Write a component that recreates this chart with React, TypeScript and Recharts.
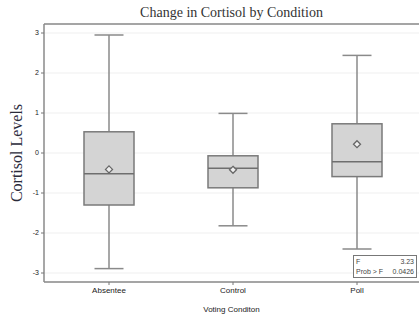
import { Bar, CartesianGrid, ComposedChart, ReferenceLine, XAxis, YAxis } from 'recharts';

const CATEGORIES = ['Absentee', 'Control', 'Poll'];
const WHISKER_LOW = [-2.89, -1.82, -2.4];
const Q1 = [-1.3, -0.87, -0.59];
const MEDIAN = [-0.52, -0.38, -0.22];
const Q3 = [0.53, -0.07, 0.73];
const WHISKER_HIGH = [2.95, 0.99, 2.44];
const MEAN = [-0.41, -0.42, 0.22];
const Y_TICKS = [-3, -2, -1, 0, 1, 2, 3];

const data = CATEGORIES.map((name, i) => ({
    name,
    range: [WHISKER_LOW[i], WHISKER_HIGH[i]],
    low: WHISKER_LOW[i],
    q1: Q1[i],
    median: MEDIAN[i],
    q3: Q3[i],
    high: WHISKER_HIGH[i],
    mean: MEAN[i],
}));

const SANS = '"Liberation Sans", Arial, sans-serif';
const SERIF = '"Liberation Serif", "Times New Roman", serif';

// draws whiskers, box, median and mean marker; pixel y of any value is taken
// from the bar's own low/high ends (placed by the y scale)
const BoxShape = (props: any) => {
    const { x, y, width, height, payload } = props;
    const { low, high, q1, q3, median, mean } = payload;
    const toPx = (v: number) => y + (height * (high - v)) / (high - low);
    const cx = x + width / 2;
    const cap = 14.5;
    const yMean = toPx(mean);
    const d = 3.5;
    return (
        <g>
            <line x1={cx} x2={cx} y1={toPx(high)} y2={toPx(q3)} stroke="#8a8a8a" strokeWidth={1.5} />
            <line x1={cx} x2={cx} y1={toPx(q1)} y2={toPx(low)} stroke="#8a8a8a" strokeWidth={1.5} />
            <line x1={cx - cap} x2={cx + cap} y1={toPx(high)} y2={toPx(high)} stroke="#8a8a8a" strokeWidth={1.5} />
            <line x1={cx - cap} x2={cx + cap} y1={toPx(low)} y2={toPx(low)} stroke="#8a8a8a" strokeWidth={1.5} />
            <rect
                x={x}
                y={toPx(q3)}
                width={width}
                height={toPx(q1) - toPx(q3)}
                fill="#d4d4d4"
                stroke="#7a7a7a"
                strokeWidth={1.5}
            />
            <line x1={x} x2={x + width} y1={toPx(median)} y2={toPx(median)} stroke="#6e6e6e" strokeWidth={1.5} />
            <path
                d={`M${cx},${yMean - d} L${cx + d},${yMean} L${cx},${yMean + d} L${cx - d},${yMean} Z`}
                fill="#eeeeee"
                stroke="#666"
                strokeWidth={1.3}
            />
        </g>
    );
};

const YLabel = () => (
    <text
        x={22}
        y={153}
        transform="rotate(-90 22 153)"
        textAnchor="middle"
        fontFamily={SERIF}
        fontSize={16}
        fill="#2a2a3a"
    >
        Cortisol Levels
    </text>
);

export default function App() {
    return (
        <div style={{ position: 'absolute', left: 0, top: 0, width: 419, height: 318, background: '#fff' }}>
            <div
                style={{
                    position: 'absolute',
                    left: 44,
                    width: 375,
                    top: 5,
                    textAlign: 'center',
                    fontFamily: SERIF,
                    fontSize: 14,
                    color: '#333',
                    lineHeight: '16px',
                }}
            >
                Change in Cortisol by Condition
            </div>
            <ComposedChart
                width={419}
                height={318}
                data={data}
                margin={{ top: 24, right: 0, bottom: 0, left: 0 }}
            >
                <CartesianGrid horizontal vertical={false} stroke="#efefef" />
                <XAxis
                    dataKey="name"
                    padding={{ left: 3, right: 0 }}
                    tickLine={{ stroke: '#777' }}
                    tickSize={3}
                    axisLine={{ stroke: '#8a8a8a', strokeWidth: 1.5 }}
                    tick={{ fontSize: 8, fill: '#222', fontFamily: SANS }}
                    height={36}
                    label={{
                        value: 'Voting Conditon',
                        position: 'insideBottom',
                        offset: 6,
                        fontSize: 8,
                        fill: '#222',
                        fontFamily: SANS,
                    }}
                />
                <YAxis
                    width={44}
                    domain={[-3.225, 3.225]}
                    ticks={Y_TICKS}
                    interval={0}
                    tickSize={3}
                    tickLine={{ stroke: '#777' }}
                    axisLine={{ stroke: '#8a8a8a', strokeWidth: 1.5 }}
                    tick={{ fontSize: 7, fill: '#222', fontFamily: SANS }}
                    label={<YLabel />}
                />
                <ReferenceLine y={3.225} stroke="#8a8a8a" strokeWidth={1.5} />
                <Bar dataKey="range" barSize={50} shape={BoxShape} isAnimationActive={false} />
            </ComposedChart>
            <div
                style={{
                    position: 'absolute',
                    boxSizing: 'border-box',
                    left: 353,
                    top: 255,
                    width: 64,
                    height: 23,
                    border: '1px solid #777',
                    background: '#fff',
                    fontFamily: SANS,
                    fontSize: 7,
                    color: '#444',
                    lineHeight: '10px',
                    padding: '1px 2px',
                }}
            >
                <div style={{ display: 'flex', justifyContent: 'space-between' }}>
                    <span>F</span>
                    <span>3.23</span>
                </div>
                <div style={{ display: 'flex', justifyContent: 'space-between' }}>
                    <span>Prob &gt; F</span>
                    <span>0.0426</span>
                </div>
            </div>
        </div>
    );
}
